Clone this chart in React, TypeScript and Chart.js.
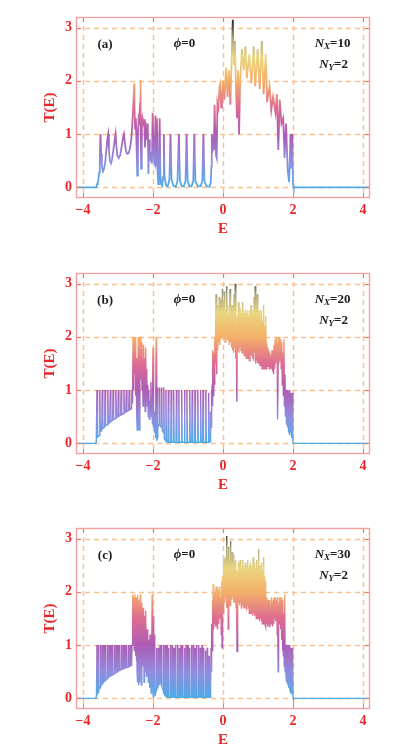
import React, { useEffect, useRef } from 'react';
import { Chart, registerables } from 'chart.js';

Chart.register(...registerables);

// ---------- data ----------
const xTicks = [-4, -2, 0, 2, 4];
const yTicks = [0, 1, 2, 3];
const xRange = [-4.2, 4.2];
const yRange = [-0.2, 3.2];

const panelLabels = ['(a)', '(b)', '(c)'];
const nxValues = ['10', '20', '30'];
const nyValue = '2';
const phiValue = '0';

// [E, T(E)] for N_X = 10
const pointsA: number[][] = [
  [-4.2, 0], [-3.62, 0], [-3.6, 0.06], [-3.58, 0.08], [-3.56, 0.14], [-3.54, 0.28], [-3.52, 0.55], [-3.5, 1.0],
  [-3.48, 0.62], [-3.46, 0.4], [-3.43, 0.3], [-3.4, 0.34], [-3.37, 0.45], [-3.34, 0.65], [-3.31, 0.88], [-3.28, 1.0],
  [-3.26, 0.7], [-3.23, 0.5], [-3.2, 0.45], [-3.17, 0.52], [-3.14, 0.66], [-3.1, 0.86], [-3.07, 1.0], [-3.05, 0.8],
  [-3.02, 0.6], [-2.98, 0.55], [-2.94, 0.6], [-2.9, 0.75], [-2.86, 0.92], [-2.83, 1.0], [-2.8, 0.82], [-2.77, 0.68],
  [-2.74, 0.63], [-2.7, 0.64], [-2.66, 0.72], [-2.62, 0.9], [-2.59, 1.2], [-2.56, 1.6], [-2.54, 1.95], [-2.53, 1.5],
  [-2.51, 1.1], [-2.49, 1.3], [-2.47, 0.8], [-2.45, 0.22], [-2.43, 1.0], [-2.41, 1.3], [-2.39, 1.25], [-2.37, 1.6],
  [-2.36, 2.02], [-2.35, 1.4], [-2.34, 0.35], [-2.32, 1.1], [-2.3, 1.3], [-2.27, 1.2], [-2.25, 1.28], [-2.23, 0.75],
  [-2.21, 1.22], [-2.19, 1.0], [-2.17, 0.9], [-2.15, 1.2], [-2.13, 0.25], [-2.11, 0.9], [-2.09, 0.7], [-2.07, 0.55],
  [-2.05, 0.6], [-2.03, 0.45], [-2.01, 1.4], [-1.99, 0.9], [-1.97, 0.5], [-1.95, 0.45], [-1.93, 1.35], [-1.91, 0.4],
  [-1.89, 1.3], [-1.87, 0.3], [-1.85, 0.06], [-1.83, 0.5], [-1.81, 1.3], [-1.79, 0.25], [-1.77, 0.06], [-1.74, 0.03],
  [-1.71, 0.2], [-1.69, 1.0], [-1.67, 0.2], [-1.63, 0.04], [-1.58, 0.02], [-1.53, 0.15], [-1.5, 1.0], [-1.47, 0.15],
  [-1.42, 0.03], [-1.35, 0.01], [-1.3, 0.12], [-1.26, 1.0], [-1.23, 0.12], [-1.18, 0.02], [-1.12, 0.02], [-1.07, 0.12],
  [-1.04, 1.0], [-1.01, 0.12], [-0.96, 0.02], [-0.9, 0.02], [-0.85, 0.12], [-0.82, 1.0], [-0.79, 0.12], [-0.72, 0.02],
  [-0.64, 0.02], [-0.59, 0.12], [-0.56, 1.0], [-0.53, 0.12], [-0.47, 0.02], [-0.38, 0.01], [-0.35, 0.1], [-0.33, 0.4],
  [-0.32, 1.0], [-0.3, 0.65], [-0.28, 0.95], [-0.26, 0.7], [-0.24, 1.55], [-0.22, 1.0], [-0.2, 0.6], [-0.18, 0.55],
  [-0.16, 1.6], [-0.13, 1.5], [-0.1, 1.9], [-0.08, 1.95], [-0.05, 1.5], [-0.03, 1.55], [0.0, 2.0], [0.04, 1.65],
  [0.09, 2.25], [0.13, 1.7], [0.17, 2.2], [0.21, 1.55], [0.25, 2.5], [0.28, 3.15], [0.31, 2.3], [0.34, 2.75],
  [0.37, 1.9], [0.4, 1.3], [0.43, 2.2], [0.46, 1.0], [0.49, 2.0], [0.54, 2.6], [0.59, 2.2], [0.64, 2.65],
  [0.68, 2.05], [0.75, 2.5], [0.81, 1.95], [0.88, 2.65], [0.92, 1.9], [0.99, 2.6], [1.05, 1.85], [1.11, 2.75],
  [1.16, 1.75], [1.22, 2.5], [1.26, 1.6], [1.33, 1.9], [1.38, 1.45], [1.43, 1.7], [1.5, 1.4], [1.54, 1.75],
  [1.58, 0.7], [1.62, 1.65], [1.67, 1.2], [1.72, 1.3], [1.76, 0.55], [1.8, 1.2], [1.85, 0.3], [1.89, 0.1],
  [1.93, 1.0], [1.95, 0.35], [1.98, 1.0], [2.0, 0.05], [2.02, 0], [4.2, 0],
];

// [E, T(E)] for N_X = 20
const pointsB: number[][] = [
  [-4.2, 0], [-3.63, 0], [-3.62, 0.05], [-3.6, 1.0], [-3.585, 0.12], [-3.535, 0.15], [-3.52, 1.0], [-3.505, 0.22],
  [-3.465, 0.24], [-3.45, 1.0], [-3.435, 0.28], [-3.385, 0.3], [-3.37, 1.0], [-3.355, 0.33], [-3.305, 0.35], [-3.29, 1.0],
  [-3.275, 0.37], [-3.235, 0.39], [-3.22, 1.0], [-3.205, 0.41], [-3.155, 0.43], [-3.14, 1.0], [-3.125, 0.45], [-3.075, 0.47],
  [-3.06, 1.0], [-3.045, 0.48], [-3.005, 0.5], [-2.99, 1.0], [-2.975, 0.51], [-2.925, 0.53], [-2.91, 1.0], [-2.895, 0.54],
  [-2.845, 0.56], [-2.83, 1.0], [-2.815, 0.57], [-2.775, 0.59], [-2.76, 1.0], [-2.745, 0.6], [-2.695, 0.62], [-2.68, 1.0],
  [-2.665, 0.63], [-2.615, 0.65], [-2.6, 1.0], [-2.585, 0.75],
  [-2.57, 2.0], [-2.555, 1.0], [-2.54, 1.95], [-2.525, 1.3], [-2.51, 2.0], [-2.495, 0.9], [-2.48, 1.6], [-2.465, 0.5],
  [-2.45, 0.25], [-2.435, 1.1], [-2.42, 2.0], [-2.405, 0.9], [-2.39, 0.25], [-2.375, 1.3], [-2.36, 2.0], [-2.345, 1.2],
  [-2.33, 1.9], [-2.315, 1.0], [-2.3, 1.6], [-2.285, 0.7], [-2.27, 1.85], [-2.255, 1.1], [-2.24, 1.6], [-2.225, 0.6],
  [-2.21, 1.8], [-2.195, 0.9], [-2.18, 1.4], [-2.165, 0.7], [-2.15, 1.1], [-2.135, 0.5], [-2.12, 1.0], [-2.105, 0.45],
  [-2.09, 0.8], [-2.075, 0.6], [-2.06, 1.15], [-2.045, 0.5], [-2.03, 0.9], [-2.015, 0.35], [-2.0, 1.8], [-1.985, 0.3],
  [-1.97, 0.6], [-1.955, 0.2], [-1.94, 0.45], [-1.925, 0.1], [-1.91, 2.0], [-1.895, 0.05],
  [-1.882, 0.1], [-1.87, 1.05], [-1.858, 0.3], [-1.822, 0.35], [-1.81, 1.05], [-1.798, 0.35], [-1.762, 0.3], [-1.75, 1.05],
  [-1.738, 0.25], [-1.702, 0.2], [-1.69, 1.05], [-1.678, 0.1], [-1.642, 0.05], [-1.63, 1.0], [-1.617, 0.03], [-1.573, 0.02],
  [-1.56, 1.0], [-1.547, 0.02], [-1.493, 0.02], [-1.48, 1.0], [-1.467, 0.02], [-1.423, 0.02], [-1.41, 1.0], [-1.397, 0.02],
  [-1.343, 0.02], [-1.33, 1.0], [-1.317, 0.02], [-1.273, 0.02], [-1.26, 1.0], [-1.247, 0.02], [-1.193, 0.02], [-1.18, 1.0],
  [-1.167, 0.02], [-1.113, 0.02], [-1.1, 1.0], [-1.087, 0.02], [-1.043, 0.02], [-1.03, 1.0], [-1.017, 0.02], [-0.963, 0.02],
  [-0.95, 1.0], [-0.937, 0.02], [-0.893, 0.02], [-0.88, 1.0], [-0.867, 0.02], [-0.813, 0.02], [-0.8, 1.0], [-0.787, 0.02],
  [-0.733, 0.02], [-0.72, 1.0], [-0.707, 0.02], [-0.653, 0.02], [-0.64, 1.0], [-0.627, 0.02], [-0.583, 0.02], [-0.57, 1.0],
  [-0.557, 0.02], [-0.503, 0.02], [-0.49, 1.0], [-0.477, 0.02], [-0.423, 0.02], [-0.41, 0.95], [-0.397, 0.02], [-0.37, 0.03],
  [-0.36, 0.05], [-0.35, 0.6], [-0.34, 0.3], [-0.33, 1.0], [-0.32, 0.55], [-0.31, 1.1],
  [-0.3, 0.7], [-0.29, 1.75], [-0.28, 0.9], [-0.27, 1.7], [-0.26, 1.0], [-0.25, 1.6], [-0.24, 1.1], [-0.23, 2.0],
  [-0.22, 1.5], [-0.2, 2.8], [-0.18, 1.3], [-0.165, 2.3], [-0.15, 1.75], [-0.135, 2.6], [-0.12, 1.9], [-0.105, 2.75],
  [-0.09, 1.85], [-0.075, 2.5], [-0.06, 2.0], [-0.045, 2.7], [-0.03, 1.95], [-0.015, 2.9], [0.0, 2.0], [0.015, 2.6],
  [0.03, 2.05], [0.045, 2.85], [0.06, 1.9], [0.075, 2.5], [0.09, 2.1], [0.105, 2.95], [0.12, 1.95], [0.135, 2.6],
  [0.15, 2.0], [0.165, 2.4], [0.18, 1.85], [0.2, 2.9], [0.215, 1.9], [0.23, 2.55], [0.245, 1.8], [0.26, 2.6],
  [0.275, 1.75], [0.29, 2.45], [0.305, 1.7], [0.32, 2.8], [0.335, 1.8], [0.35, 3.0], [0.365, 1.6], [0.38, 2.1],
  [0.395, 0.78], [0.41, 2.4], [0.425, 1.75], [0.44, 2.65], [0.455, 1.7], [0.47, 2.55], [0.485, 1.8], [0.5, 2.5],
  [0.515, 1.75], [0.53, 2.45], [0.545, 1.7], [0.56, 2.65], [0.575, 1.8], [0.59, 2.5], [0.605, 1.65], [0.62, 2.45],
  [0.635, 1.7], [0.65, 2.5], [0.665, 1.6], [0.68, 2.45], [0.695, 1.65], [0.71, 2.5], [0.725, 1.6], [0.74, 2.4],
  [0.755, 1.55], [0.77, 2.5], [0.785, 1.7], [0.8, 2.6], [0.815, 1.65], [0.83, 2.4], [0.845, 1.6], [0.86, 2.5],
  [0.875, 1.55], [0.89, 2.75], [0.905, 1.7], [0.92, 2.95], [0.935, 1.5], [0.95, 2.45], [0.965, 1.55], [0.98, 2.8],
  [0.995, 1.5], [1.01, 2.4], [1.025, 1.5], [1.04, 2.5], [1.055, 1.45], [1.07, 2.35], [1.085, 1.45], [1.1, 2.5],
  [1.115, 1.4], [1.13, 2.3], [1.145, 1.45], [1.16, 2.6], [1.175, 1.4], [1.19, 2.2], [1.205, 1.45], [1.22, 2.4],
  [1.235, 1.4], [1.25, 1.9], [1.265, 1.45], [1.28, 1.8], [1.295, 1.45], [1.31, 1.75], [1.325, 1.4], [1.34, 1.7],
  [1.355, 1.45], [1.37, 1.65], [1.385, 1.4], [1.4, 1.75], [1.415, 1.35], [1.43, 1.6], [1.445, 1.3], [1.46, 1.85],
  [1.475, 1.4], [1.49, 1.95], [1.505, 1.5], [1.52, 2.0], [1.535, 1.6], [1.55, 1.9], [1.56, 0.45], [1.575, 1.5],
  [1.59, 2.0], [1.605, 1.6], [1.62, 2.0], [1.635, 1.55], [1.65, 1.95], [1.665, 1.4], [1.68, 1.9], [1.695, 1.1],
  [1.71, 1.7], [1.725, 0.9], [1.74, 1.95], [1.755, 0.7], [1.77, 1.3], [1.785, 0.5], [1.8, 1.0], [1.815, 0.35],
  [1.83, 1.0], [1.845, 0.3], [1.86, 0.95], [1.875, 0.2], [1.89, 1.0], [1.905, 0.15], [1.92, 0.95], [1.935, 0.2],
  [1.95, 0.9], [1.965, 0.1], [1.98, 0.95], [1.995, 0.05], [2.01, 0], [4.2, 0],
];

// [E, T(E)] for N_X = 30
const pointsC: number[][] = [
  [-4.2, 0], [-3.63, 0], [-3.615, 0.05], [-3.6, 1.0], [-3.59, 0.08], [-3.56, 0.12], [-3.55, 1.0], [-3.54, 0.17],
  [-3.51, 0.2], [-3.5, 1.0], [-3.49, 0.23], [-3.46, 0.26], [-3.45, 1.0], [-3.44, 0.28], [-3.41, 0.3], [-3.4, 1.0],
  [-3.39, 0.32], [-3.36, 0.34], [-3.35, 1.0], [-3.34, 0.35], [-3.31, 0.37], [-3.3, 1.0], [-3.29, 0.38], [-3.26, 0.4],
  [-3.25, 1.0], [-3.24, 0.41], [-3.21, 0.42], [-3.2, 1.0], [-3.19, 0.43], [-3.16, 0.44], [-3.15, 1.0], [-3.14, 0.45],
  [-3.11, 0.46], [-3.1, 1.0], [-3.09, 0.47], [-3.06, 0.48], [-3.05, 1.0], [-3.04, 0.49], [-3.01, 0.5], [-3.0, 1.0],
  [-2.99, 0.51], [-2.96, 0.52], [-2.95, 1.0], [-2.94, 0.53], [-2.91, 0.54], [-2.9, 1.0], [-2.89, 0.54], [-2.86, 0.55],
  [-2.85, 1.0], [-2.84, 0.56], [-2.81, 0.57], [-2.8, 1.0], [-2.79, 0.57], [-2.76, 0.58], [-2.75, 1.0], [-2.74, 0.58],
  [-2.71, 0.59], [-2.7, 1.0], [-2.69, 0.6], [-2.66, 0.61], [-2.65, 1.0], [-2.64, 0.61], [-2.61, 0.62], [-2.6, 1.0],
  [-2.585, 1.95], [-2.575, 1.0], [-2.565, 1.9], [-2.555, 1.2], [-2.545, 1.8], [-2.535, 0.9], [-2.525, 1.95], [-2.515, 1.1],
  [-2.505, 1.75], [-2.495, 0.8], [-2.485, 1.9], [-2.475, 0.7], [-2.465, 1.6], [-2.455, 0.5], [-2.445, 1.95], [-2.435, 0.3],
  [-2.425, 1.5], [-2.415, 0.25], [-2.405, 1.85], [-2.395, 0.6], [-2.385, 1.7], [-2.375, 0.3], [-2.365, 1.95], [-2.355, 0.8],
  [-2.345, 1.6], [-2.335, 0.25], [-2.325, 1.8], [-2.315, 0.9], [-2.305, 1.5], [-2.295, 0.6], [-2.285, 1.7], [-2.275, 0.8],
  [-2.265, 1.3], [-2.255, 0.3], [-2.245, 1.55], [-2.235, 0.7], [-2.225, 1.4], [-2.215, 0.5], [-2.205, 1.65], [-2.195, 0.6],
  [-2.185, 1.2], [-2.175, 0.4], [-2.165, 1.3], [-2.155, 0.5], [-2.145, 1.0], [-2.135, 0.3], [-2.125, 1.1], [-2.115, 0.45],
  [-2.105, 0.9], [-2.095, 0.2], [-2.085, 1.2], [-2.075, 0.35], [-2.065, 0.8], [-2.055, 0.1], [-2.045, 1.0], [-2.035, 0.3],
  [-2.025, 1.95], [-2.015, 0.2], [-2.005, 1.7], [-1.995, 0.05], [-1.985, 1.55], [-1.975, 0.0], [-1.965, 1.2], [-1.955, 0.1],
  [-1.945, 0.9], [-1.935, 0.05],
  [-1.91, 0.15], [-1.9, 0.95], [-1.89, 0.2], [-1.86, 0.2], [-1.85, 0.95], [-1.84, 0.25], [-1.81, 0.28], [-1.8, 1.0],
  [-1.79, 0.3], [-1.76, 0.25], [-1.75, 1.0], [-1.74, 0.2], [-1.71, 0.15], [-1.7, 1.0], [-1.69, 0.1], [-1.66, 0.06],
  [-1.65, 1.0], [-1.64, 0.05], [-1.61, 0.03], [-1.6, 1.0], [-1.59, 0.02], [-1.56, 0.02], [-1.55, 0.95], [-1.54, 0.02],
  [-1.51, 0.02], [-1.5, 1.0], [-1.49, 0.02], [-1.46, 0.02], [-1.45, 1.0], [-1.44, 0.02], [-1.41, 0.02], [-1.4, 0.95],
  [-1.39, 0.02], [-1.36, 0.02], [-1.35, 1.0], [-1.34, 0.02], [-1.31, 0.02], [-1.3, 1.0], [-1.29, 0.02], [-1.26, 0.02],
  [-1.25, 0.95], [-1.24, 0.02], [-1.21, 0.02], [-1.2, 1.0], [-1.19, 0.02], [-1.16, 0.02], [-1.15, 1.0], [-1.14, 0.02],
  [-1.11, 0.02], [-1.1, 0.95], [-1.09, 0.02], [-1.06, 0.02], [-1.05, 1.0], [-1.04, 0.02], [-1.01, 0.02], [-1.0, 1.0],
  [-0.99, 0.02], [-0.96, 0.02], [-0.95, 0.95], [-0.94, 0.02], [-0.91, 0.02], [-0.9, 1.0], [-0.89, 0.02], [-0.86, 0.02],
  [-0.85, 1.0], [-0.84, 0.02], [-0.81, 0.02], [-0.8, 0.95], [-0.79, 0.02], [-0.76, 0.02], [-0.75, 1.0], [-0.74, 0.02],
  [-0.71, 0.02], [-0.7, 1.0], [-0.69, 0.02], [-0.66, 0.02], [-0.65, 0.95], [-0.64, 0.02], [-0.61, 0.02], [-0.6, 1.0],
  [-0.59, 0.02], [-0.56, 0.02], [-0.55, 0.95], [-0.54, 0.02], [-0.51, 0.02], [-0.5, 0.9], [-0.49, 0.02], [-0.46, 0.02],
  [-0.45, 0.95], [-0.44, 0.02], [-0.41, 0.02], [-0.4, 0.8], [-0.39, 0.02], [-0.37, 0.02],
  [-0.36, 0.6], [-0.35, 0.2], [-0.34, 0.95], [-0.33, 0.5], [-0.32, 1.4], [-0.31, 0.9], [-0.3, 1.85], [-0.29, 1.0],
  [-0.28, 2.15], [-0.27, 1.3], [-0.26, 2.1], [-0.25, 1.5], [-0.24, 1.9], [-0.23, 1.4], [-0.22, 2.0], [-0.21, 1.35],
  [-0.2, 2.1], [-0.19, 1.5], [-0.18, 1.95], [-0.17, 1.4], [-0.16, 2.1], [-0.15, 1.3], [-0.1375, 2.0], [-0.125, 1.4],
  [-0.1125, 2.05], [-0.1, 1.5], [-0.0875, 2.1], [-0.075, 1.6], [-0.0625, 1.9], [-0.05, 1.2], [-0.0375, 2.2], [-0.025, 0.95],
  [-0.0125, 2.3], [0.0, 1.6], [0.0125, 2.6], [0.025, 1.7], [0.0375, 2.5], [0.05, 1.8], [0.0625, 2.65], [0.075, 1.9],
  [0.0875, 2.55], [0.1, 1.7], [0.1125, 3.05], [0.125, 1.8], [0.1375, 2.7], [0.15, 1.3], [0.1625, 2.85], [0.175, 1.9],
  [0.1875, 2.6], [0.2, 1.75], [0.2125, 2.95], [0.225, 2.0], [0.2375, 2.65], [0.25, 1.85], [0.2625, 2.75], [0.275, 1.9],
  [0.2875, 2.6], [0.3, 1.8], [0.3125, 2.7], [0.325, 1.95], [0.3375, 2.55], [0.35, 1.8], [0.3625, 2.6], [0.375, 1.7],
  [0.3875, 2.4], [0.4, 0.88], [0.4125, 2.3], [0.425, 1.7], [0.4375, 2.55], [0.45, 1.8], [0.4625, 2.45], [0.475, 1.75],
  [0.4875, 2.6], [0.5, 1.8], [0.5125, 2.5], [0.525, 1.7], [0.5375, 2.45], [0.55, 1.75], [0.5625, 2.6], [0.575, 1.8],
  [0.5875, 2.5], [0.6, 1.7], [0.6125, 2.4], [0.625, 1.75], [0.6375, 2.55], [0.65, 1.7], [0.6625, 2.5], [0.675, 1.65],
  [0.6875, 2.45], [0.7, 1.75], [0.7125, 2.6], [0.725, 1.7], [0.7375, 2.45], [0.75, 1.6], [0.7625, 2.5], [0.775, 1.7],
  [0.7875, 2.55], [0.8, 1.6], [0.8125, 2.45], [0.825, 1.65], [0.8375, 2.5], [0.85, 1.55], [0.8625, 2.65], [0.875, 1.6],
  [0.8875, 2.4], [0.9, 1.55], [0.9125, 2.55], [0.925, 1.6], [0.9375, 2.45], [0.95, 1.5], [0.9625, 2.6], [0.975, 1.55],
  [0.9875, 2.5], [1.0, 1.5], [1.0125, 2.8], [1.025, 1.5], [1.0375, 2.45], [1.05, 1.45], [1.0625, 2.5], [1.075, 1.5],
  [1.0875, 2.4], [1.1, 1.45], [1.1125, 2.55], [1.125, 1.4], [1.1375, 2.4], [1.15, 1.45], [1.1625, 2.65], [1.175, 1.4],
  [1.1875, 2.3], [1.2, 1.4], [1.2125, 2.2], [1.225, 1.35], [1.2375, 1.9], [1.25, 1.4], [1.2625, 1.8], [1.275, 1.35],
  [1.2875, 1.85], [1.3, 1.4], [1.3125, 1.7], [1.325, 1.35], [1.3375, 1.85], [1.35, 1.45], [1.3625, 1.75], [1.375, 1.4],
  [1.3875, 1.9], [1.4, 1.45], [1.4125, 1.8], [1.425, 1.35], [1.4375, 1.85], [1.45, 1.4], [1.4625, 1.9], [1.475, 1.5],
  [1.4875, 1.85], [1.5, 1.45], [1.5125, 1.9], [1.525, 1.5], [1.5375, 1.85], [1.55, 1.2], [1.5625, 1.9], [1.575, 0.5],
  [1.5875, 1.8], [1.6, 1.4], [1.6125, 1.9], [1.625, 1.5], [1.6375, 1.85], [1.65, 1.3], [1.6625, 1.9], [1.675, 1.1],
  [1.6875, 1.75], [1.7, 0.9], [1.7125, 1.85], [1.725, 0.8], [1.7375, 1.6], [1.75, 0.6], [1.7625, 1.95], [1.775, 0.5],
  [1.7875, 1.0], [1.8, 0.4], [1.8125, 1.0], [1.825, 0.3], [1.8375, 1.0], [1.85, 0.25], [1.8625, 1.0], [1.875, 0.2],
  [1.8875, 1.0], [1.9, 0.15], [1.9125, 0.95], [1.925, 0.12], [1.9375, 0.95], [1.95, 0.1], [1.9625, 0.95], [1.975, 0.08],
  [1.9875, 0.95], [2.0, 0.03], [2.01, 0], [4.2, 0],
];

const panelPoints = [pointsA, pointsB, pointsC];

// ---------- style ----------
const RED = '#e8262a';
const FRAME = '#f4a0a0';
const TICKMARK = '#ee7373';
const GRID = 'rgba(250,178,112,0.8)';
const TEXT = '#1e1e1e';
const SERIF = '"Liberation Serif", "Times New Roman", serif';
const colorStops: [number, string][] = [
  [0, 'rgb(78,172,232)'],
  [0.5, 'rgb(145,140,222)'],
  [1.0, 'rgb(172,92,180)'],
  [1.5, 'rgb(222,108,145)'],
  [2.0, 'rgb(244,176,104)'],
  [2.45, 'rgb(234,214,128)'],
  [2.8, 'rgb(170,166,128)'],
  [3.1, 'rgb(45,45,45)'],
];
const lineWidths = [1.8, 1.45, 1.4];

const fmt = (v: number) => (v < 0 ? '\u2212' + Math.abs(v) : String(v));

function lineGradient(ctx: any) {
  const chart = ctx.chart;
  const y = chart.scales && chart.scales.y;
  if (!chart.chartArea || !y) return colorStops[0][1];
  const topT = colorStops[colorStops.length - 1][0];
  const g = chart.ctx.createLinearGradient(0, y.getPixelForValue(0), 0, y.getPixelForValue(topT));
  colorStops.forEach(([t, c]) => g.addColorStop(t / topT, c));
  return g;
}

const gridPlugin = {
  id: 'dashGrid',
  beforeDatasetsDraw(chart: any) {
    const { ctx, chartArea: a, scales } = chart;
    ctx.save();
    ctx.strokeStyle = GRID;
    ctx.lineWidth = 1.4;
    ctx.setLineDash([5, 4]);
    ctx.beginPath();
    xTicks.forEach((v) => {
      const px = Math.round(scales.x.getPixelForValue(v)) + 0.5;
      ctx.moveTo(px, a.top);
      ctx.lineTo(px, a.bottom);
    });
    yTicks.forEach((v) => {
      const py = Math.round(scales.y.getPixelForValue(v)) + 0.5;
      ctx.moveTo(a.left, py);
      ctx.lineTo(a.right, py);
    });
    ctx.stroke();
    ctx.restore();
  },
};

const framePlugin = {
  id: 'frame',
  afterDatasetsDraw(chart: any) {
    const { ctx, chartArea: a, scales } = chart;
    ctx.save();
    ctx.lineWidth = 1;
    ctx.strokeStyle = TICKMARK;
    ctx.beginPath();
    xTicks.forEach((v) => {
      const px = Math.round(scales.x.getPixelForValue(v)) + 0.5;
      ctx.moveTo(px, a.bottom);
      ctx.lineTo(px, a.bottom - 5);
      ctx.moveTo(px, a.top);
      ctx.lineTo(px, a.top + 5);
    });
    yTicks.forEach((v) => {
      const py = Math.round(scales.y.getPixelForValue(v)) + 0.5;
      ctx.moveTo(a.left, py);
      ctx.lineTo(a.left + 5, py);
      ctx.moveTo(a.right, py);
      ctx.lineTo(a.right - 5, py);
    });
    ctx.stroke();
    ctx.lineWidth = 1.4;
    ctx.strokeStyle = FRAME;
    ctx.strokeRect(a.left + 0.5, a.top + 0.5, a.right - a.left - 1, a.bottom - a.top - 1);
    ctx.restore();
  },
};

type Part = { text: string; font: string; dy: number };

function drawParts(ctx: CanvasRenderingContext2D, parts: Part[], cx: number, cy: number) {
  let total = 0;
  parts.forEach((p) => {
    ctx.font = p.font;
    total += ctx.measureText(p.text).width;
  });
  let x = cx - total / 2;
  parts.forEach((p) => {
    ctx.font = p.font;
    ctx.fillText(p.text, x, cy + p.dy);
    x += ctx.measureText(p.text).width;
  });
}

function annotationPlugin(index: number) {
  return {
    id: 'annot' + index,
    afterDraw(chart: any) {
      const { ctx, scales } = chart;
      const X = (v: number) => scales.x.getPixelForValue(v);
      const Y = (v: number) => scales.y.getPixelForValue(v);
      ctx.save();
      ctx.fillStyle = TEXT;
      ctx.textBaseline = 'middle';
      ctx.textAlign = 'left';
      const bold = `bold 13px ${SERIF}`;
      const boldIt = `italic bold 13px ${SERIF}`;
      const sub = `italic bold 9px ${SERIF}`;
      drawParts(ctx, [{ text: panelLabels[index], font: bold, dy: 0 }], X(-3.37), Y(2.68));
      drawParts(ctx, [
        { text: '\u03D5', font: boldIt, dy: 0 },
        { text: '=' + phiValue, font: bold, dy: 0 },
      ], X(-1.1), Y(2.7));
      drawParts(ctx, [
        { text: 'N', font: boldIt, dy: 0 },
        { text: 'X', font: sub, dy: 3 },
        { text: '=' + nxValues[index], font: bold, dy: 0 },
      ], X(3.13), Y(2.7));
      drawParts(ctx, [
        { text: 'N', font: boldIt, dy: 0 },
        { text: 'Y', font: sub, dy: 3 },
        { text: '=' + nyValue, font: bold, dy: 0 },
      ], X(3.16), Y(2.3));
      ctx.restore();
    },
  };
}

function Panel({ index, top }: { index: number; top: number }) {
  const ref = useRef<HTMLCanvasElement>(null);
  useEffect(() => {
    const canvas = ref.current;
    if (!canvas) return;
    const pts = panelPoints[index];
    const axisFont = { family: SERIF, weight: 'bold' as const, size: 14 };
    const chart = new Chart(canvas, {
      type: 'line',
      data: {
        datasets: [
          {
            data: pts.map(([x, y]) => ({ x, y })),
            borderColor: lineGradient,
            borderWidth: lineWidths[index],
            pointRadius: 0,
            tension: 0,
            fill: false,
          },
        ],
      },
      options: {
        animation: false,
        responsive: false,
        maintainAspectRatio: false,
        layout: { padding: { top: 17, right: 47, left: 0, bottom: 0 } },
        plugins: { legend: { display: false }, tooltip: { enabled: false } },
        scales: {
          x: {
            type: 'linear',
            min: xRange[0],
            max: xRange[1],
            afterBuildTicks: (s: any) => {
              s.ticks = xTicks.map((v) => ({ value: v }));
            },
            afterFit: (s: any) => {
              s.height = 41;
            },
            grid: { display: false, drawTicks: false },
            border: { display: false },
            ticks: { color: RED, font: axisFont, padding: 4, callback: (v: any) => fmt(Number(v)) },
            title: {
              display: true,
              text: 'E',
              color: RED,
              font: { family: SERIF, weight: 'bold', size: 15 },
              padding: { top: 0, bottom: 1 },
            },
          },
          y: {
            type: 'linear',
            min: yRange[0],
            max: yRange[1],
            afterBuildTicks: (s: any) => {
              s.ticks = yTicks.map((v) => ({ value: v }));
            },
            afterFit: (s: any) => {
              s.width = 76;
            },
            grid: { display: false, drawTicks: false },
            border: { display: false },
            ticks: { color: RED, font: axisFont, padding: 4, callback: (v: any) => fmt(Number(v)) },
            title: {
              display: true,
              text: 'T(E)',
              color: RED,
              font: { family: SERIF, weight: 'bold', size: 15 },
              padding: { top: 41, bottom: 0 },
            },
          },
        },
      },
      plugins: [gridPlugin, framePlugin, annotationPlugin(index)],
    } as any);
    return () => chart.destroy();
  }, [index]);
  return (
    <canvas
      ref={ref}
      width={417}
      height={239}
      style={{ position: 'absolute', left: 0, top, width: 417, height: 239 }}
    />
  );
}

export default function App() {
  return (
    <div style={{ position: 'absolute', left: 0, top: 0, width: 417, height: 750, background: '#ffffff', overflow: 'hidden' }}>
      <Panel index={0} top={0} />
      <Panel index={1} top={256} />
      <Panel index={2} top={511} />
    </div>
  );
}
